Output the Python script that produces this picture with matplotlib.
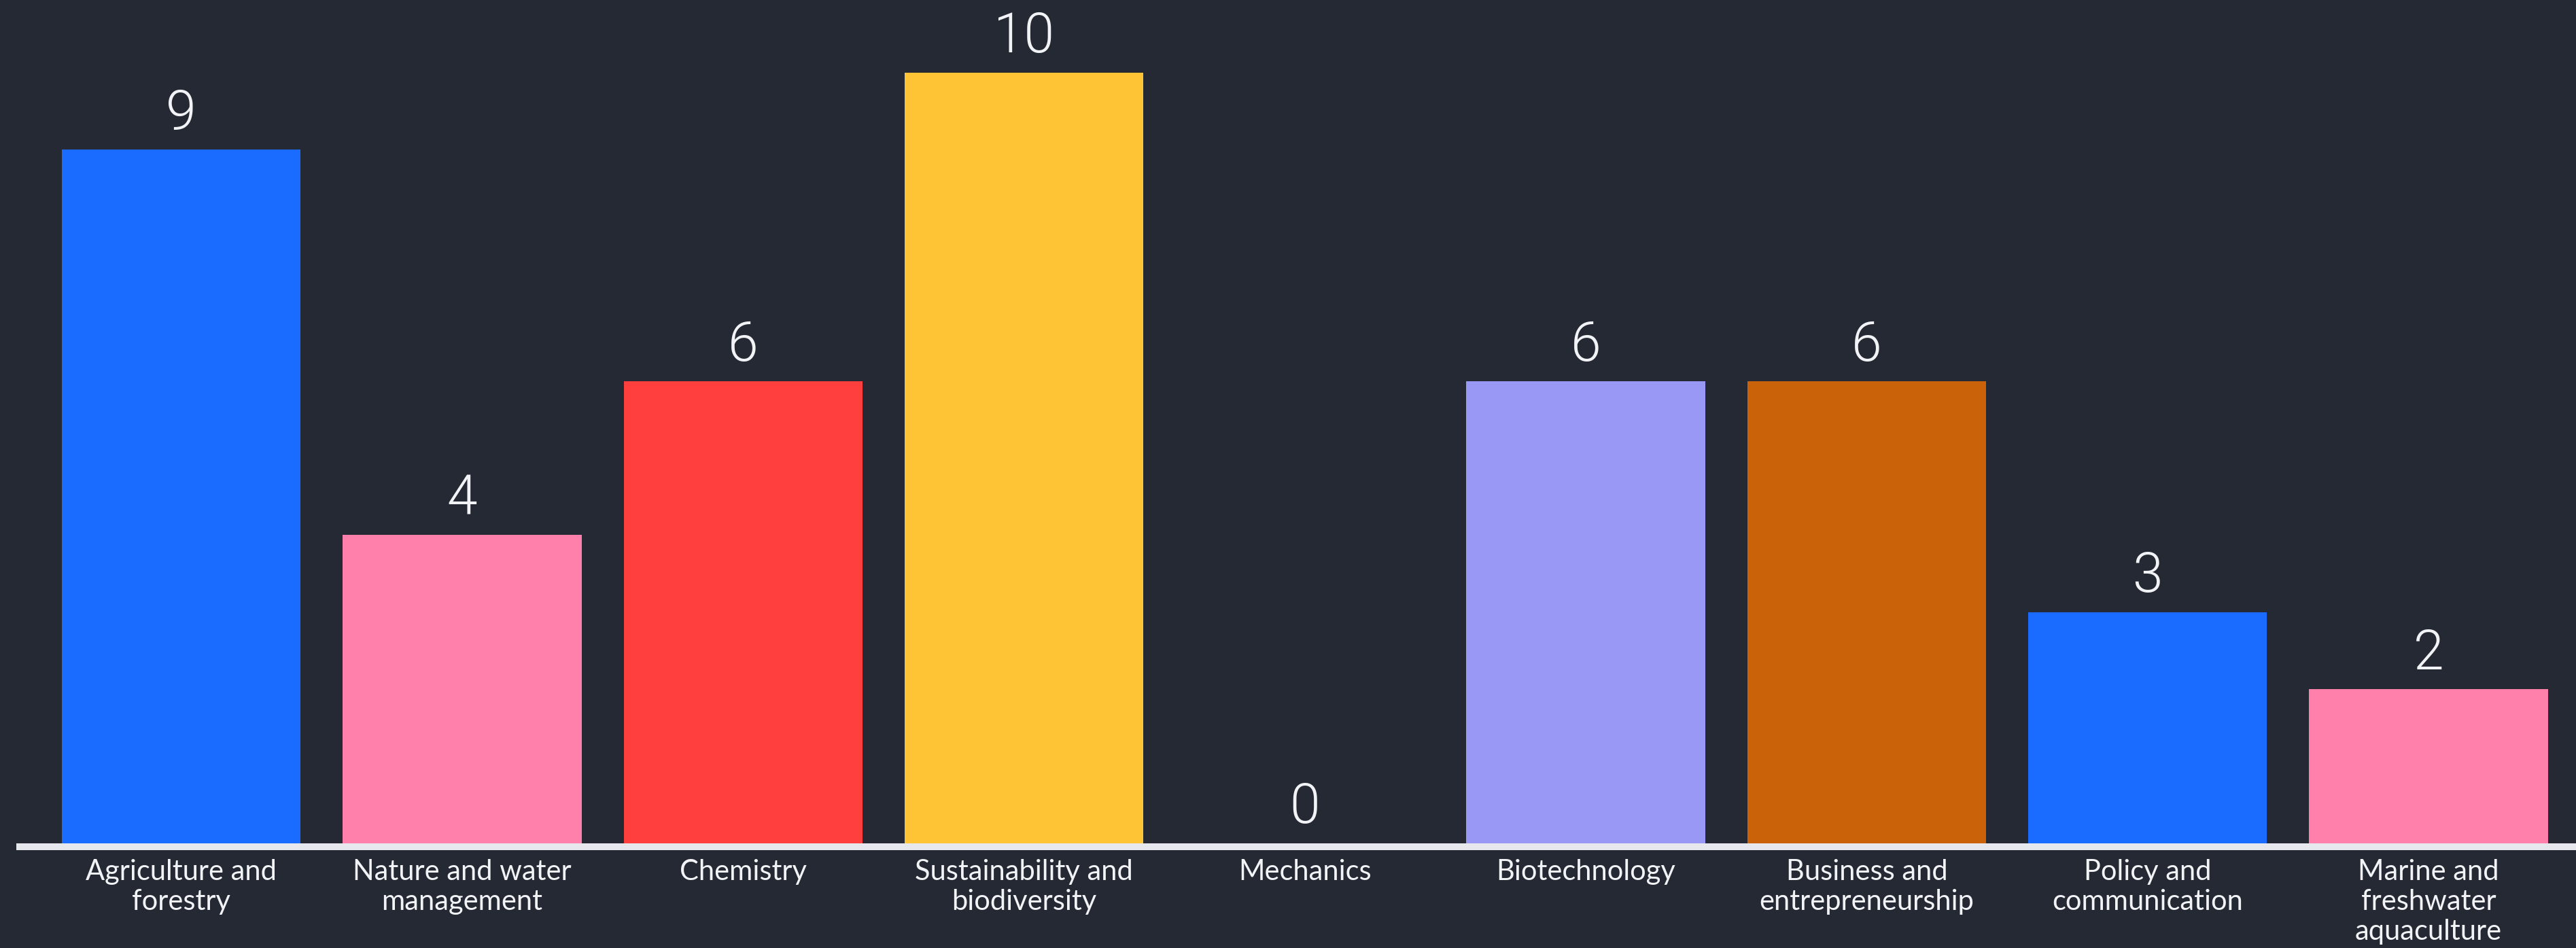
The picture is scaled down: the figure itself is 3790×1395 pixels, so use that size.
import matplotlib
matplotlib.use("Agg")
import matplotlib.pyplot as plt

categories = ["Agriculture and\nforestry", "Nature and water\nmanagement", "Chemistry",
              "Sustainability and\nbiodiversity", "Mechanics", "Biotechnology",
              "Business and\nentrepreneurship", "Policy and\ncommunication",
              "Marine and\nfreshwater\naquaculture"]
values = [9, 4, 6, 10, 0, 6, 6, 3, 2]
colors = ["#1A6BFF", "#FF80AA", "#FF3E3E", "#FFC436", "#1A6BFF", "#9999F5",
          "#C96209", "#1A6BFF", "#FF80AA"]

BG = "#252933"
FG = "#F2F3F7"

plt.rcParams['font.family'] = ['Lato', 'DejaVu Sans']

fig = plt.figure(figsize=(37.9, 13.95), dpi=100, facecolor=BG)
ax = fig.add_axes([29/3790, (1395-1241)/1395, 1 - 29/3790, 1241/1395])
ax.set_facecolor(BG)

x = list(range(len(values)))
bars = ax.bar(x, values, width=0.85, color=colors, zorder=2)
ax.bar_label(bars, labels=[str(v) for v in values], padding=9, color=FG,
             fontsize=58, fontweight=300, family=['Roboto', 'Lato', 'DejaVu Sans'])

ax.set_xlim(-0.575, 8.525)
ax.set_ylim(0, 1241/113.4)

for s in ['top', 'right', 'left']:
    ax.spines[s].set_visible(False)
ax.spines['bottom'].set_color("#E6E8EE")
ax.spines['bottom'].set_linewidth(7.2)
ax.spines['bottom'].set_position(('outward', 3.6))
ax.set_yticks([])
ax.set_xticks(x)
ax.set_xticklabels(categories, fontsize=30, color=FG, linespacing=1.2)
ax.tick_params(axis='x', length=0, pad=13)

fig.savefig("out.png", dpi=100, facecolor=BG)
